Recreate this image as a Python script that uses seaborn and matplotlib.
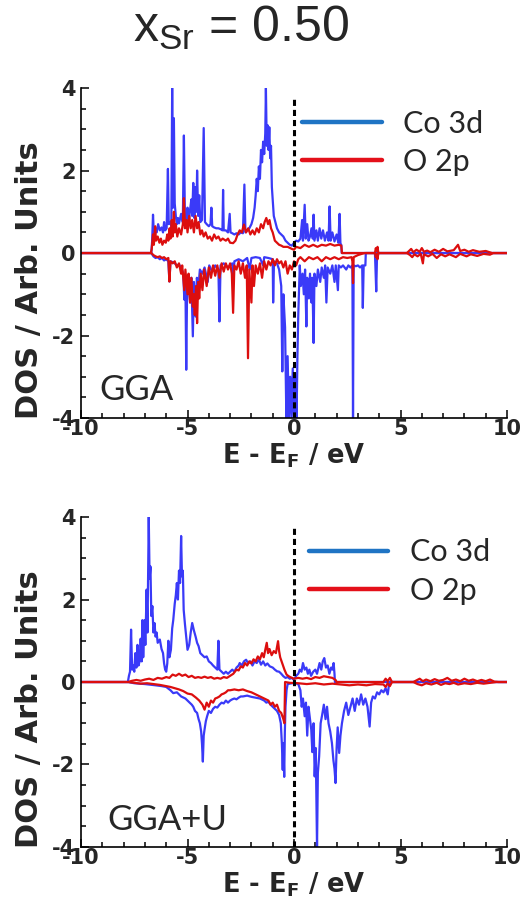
import numpy as np
import pandas as pd
import matplotlib
matplotlib.use("Agg")
import matplotlib.pyplot as plt
from matplotlib.lines import Line2D
from matplotlib.ticker import MultipleLocator
import seaborn as sns

# ---------------- data (E - E_F in eV, DOS in arb. units) ----------------
title_text = r"$\mathrm{x_{Sr}}$ = 0.50"
panel_labels = ["GGA", "GGA+U"]
series_names = ["Co 3d", "O 2p"]
x_ticks = [-10, -5, 0, 5, 10]
y_ticks = [-4, -2, 0, 2, 4]

gga_co_up = [(-10, 0), (-6.7, 0), (-6.66, 0.3), (-6.62, 0.93), (-6.58, 0.45), (-6.5, 0.6), (-6.45, 0.5), (-6.38, 0.7),
             (-6.3, 0.55), (-6.22, 0.62), (-6.15, 0.5), (-6.1, 0.75), (-6.05, 0.55), (-5.98, 0.6), (-5.92, 2.04),
             (-5.88, 0.7), (-5.8, 0.75), (-5.76, 0.65), (-5.72, 4.0), (-5.68, 1.1), (-5.64, 3.27), (-5.6, 1.2),
             (-5.55, 0.9), (-5.5, 0.7), (-5.45, 0.85), (-5.4, 0.72), (-5.3, 0.95), (-5.22, 0.75), (-5.17, 2.85),
             (-5.12, 0.8), (-5.05, 0.7), (-5.0, 1.1), (-4.95, 0.72), (-4.88, 1.05), (-4.82, 1.3), (-4.78, 0.9),
             (-4.73, 1.7), (-4.68, 0.85), (-4.62, 1.6), (-4.58, 1.0), (-4.55, 2.0), (-4.5, 0.9), (-4.45, 1.4),
             (-4.4, 0.75), (-4.32, 0.8), (-4.24, 3.03), (-4.18, 0.75), (-4.1, 0.7), (-4.0, 0.65), (-3.92, 0.7),
             (-3.88, 1.1), (-3.84, 0.65), (-3.75, 0.62), (-3.65, 0.6), (-3.55, 0.6), (-3.45, 0.58), (-3.36, 0.55),
             (-3.33, 1.53), (-3.3, 0.55), (-3.2, 0.55), (-3.1, 0.5), (-3.02, 0.95), (-2.98, 0.5), (-2.9, 0.48),
             (-2.8, 0.45), (-2.7, 0.48), (-2.6, 0.45), (-2.5, 0.5), (-2.4, 0.48), (-2.33, 1.66), (-2.28, 0.5),
             (-2.2, 0.55), (-2.1, 0.6), (-2.0, 0.7), (-1.92, 0.85), (-1.85, 1.1), (-1.8, 1.4), (-1.75, 1.8),
             (-1.7, 1.5), (-1.65, 2.1), (-1.6, 1.8), (-1.55, 2.5), (-1.5, 2.2), (-1.45, 2.7), (-1.4, 2.4),
             (-1.35, 2.9), (-1.32, 4.0), (-1.28, 2.6), (-1.24, 3.1), (-1.2, 2.5), (-1.16, 3.05), (-1.12, 2.3),
             (-1.08, 2.6), (-1.04, 1.6), (-1.0, 1.3), (-0.95, 0.9), (-0.9, 0.8), (-0.8, 0.6), (-0.7, 0.5),
             (-0.6, 0.45), (-0.5, 0.4), (-0.4, 0.3), (-0.3, 0.25), (-0.2, 0.2), (-0.1, 0.18), (0.0, 0.25),
             (0.1, 0.3), (0.2, 0.28), (0.3, 0.35), (0.38, 0.8), (0.42, 0.3), (0.5, 1.17), (0.55, 0.35), (0.62, 0.7),
             (0.68, 0.3), (0.75, 0.4), (0.82, 0.6), (0.88, 0.35), (0.92, 0.93), (0.96, 0.3), (1.05, 0.55),
             (1.12, 0.3), (1.2, 0.6), (1.28, 0.35), (1.36, 0.55), (1.45, 0.3), (1.55, 0.5), (1.62, 0.3),
             (1.67, 1.13), (1.72, 0.3), (1.8, 0.5), (1.9, 0.28), (2.0, 0.45), (2.08, 0.25), (2.14, 0.95),
             (2.18, 0.22), (2.22, 0.2), (2.24, 0), (10, 0)]

gga_co_dn = [(-10, 0), (-6.7, 0), (-6.6, -0.08), (-6.5, -0.12), (-6.4, -0.1), (-6.3, -0.15), (-6.2, -0.12),
             (-6.1, -0.18), (-6.0, -0.15), (-5.9, -0.2), (-5.85, -0.69), (-5.8, -0.2), (-5.7, -0.22), (-5.6, -0.25),
             (-5.5, -0.3), (-5.4, -0.28), (-5.3, -0.35), (-5.2, -0.5), (-5.15, -1.13), (-5.1, -0.6), (-5.06, -2.83),
             (-5.02, -0.9), (-4.95, -0.7), (-4.88, -1.2), (-4.82, -0.6), (-4.75, -2.02), (-4.7, -0.7),
             (-4.62, -1.54), (-4.56, -0.6), (-4.5, -0.9), (-4.42, -0.4), (-4.3, -0.5), (-4.2, -0.35), (-4.05, -0.7),
             (-3.98, -0.3), (-3.85, -0.45), (-3.7, -0.3), (-3.55, -0.4), (-3.5, -1.66), (-3.45, -0.3), (-3.3, -0.25),
             (-3.1, -0.35), (-2.9, -0.25), (-2.85, -0.6), (-2.8, -0.2), (-2.6, -0.15), (-2.4, -0.2), (-2.2, -0.12),
             (-2.08, -0.4), (-2.0, -0.12), (-1.8, -0.1), (-1.6, -0.12), (-1.45, -0.3), (-1.4, -0.1), (-1.2, -0.12),
             (-1.0, -0.15), (-0.98, -1.2), (-0.94, -0.2), (-0.8, -0.25), (-0.7, -0.4), (-0.6, -0.8), (-0.55, -2.87),
             (-0.5, -1.0), (-0.42, -1.8), (-0.36, -4.0), (-0.3, -2.5), (-0.24, -4.0), (-0.18, -3.0), (-0.12, -4.0),
             (-0.06, -2.8), (0.0, -4.0), (0.06, -3.0), (0.12, -4.0), (0.16, -2.5), (0.2, -1.5), (0.27, -0.3),
             (0.32, -0.8), (0.4, -0.5), (0.46, -1.0), (0.52, -0.4), (0.58, -1.78), (0.62, -0.6), (0.7, -1.1),
             (0.75, -0.5), (0.82, -1.2), (0.86, -0.6), (0.92, -2.18), (0.96, -0.5), (1.05, -0.8), (1.12, -0.4),
             (1.23, -0.7), (1.3, -0.35), (1.4, -0.6), (1.46, -0.3), (1.52, -1.2), (1.58, -0.35), (1.7, -0.5),
             (1.8, -0.3), (1.9, -0.7), (1.96, -0.3), (2.06, -0.9), (2.1, -0.3), (2.2, -0.35), (2.3, -0.3),
             (2.45, -0.4), (2.55, -0.3), (2.65, -0.35), (2.74, -0.3), (2.77, -4.0), (2.8, -0.3), (2.9, -0.32),
             (3.0, -0.3), (3.1, -0.35), (3.2, -0.3), (3.23, -1.33), (3.27, -0.3), (3.35, -0.3), (3.37, 0),
             (3.8, 0), (3.86, -0.93), (3.9, 0), (10, 0)]

gga_o_up = [(-10, 0), (-6.72, 0), (-6.68, 0.1), (-6.62, 0.45), (-6.58, 0.2), (-6.52, 0.65), (-6.48, 0.3), (-6.4, 0.4),
            (-6.32, 0.25), (-6.25, 0.35), (-6.18, 0.2), (-6.1, 0.3), (-6.02, 0.25), (-5.95, 0.45), (-5.9, 0.3),
            (-5.84, 0.6), (-5.8, 0.35), (-5.74, 0.8), (-5.7, 0.4), (-5.64, 1.0), (-5.6, 0.5), (-5.55, 0.7),
            (-5.48, 0.4), (-5.4, 0.6), (-5.3, 0.45), (-5.22, 0.7), (-5.17, 1.33), (-5.12, 0.6), (-5.05, 0.8),
            (-5.0, 0.5), (-4.92, 0.9), (-4.85, 0.6), (-4.78, 0.8), (-4.7, 0.5), (-4.62, 0.9), (-4.55, 0.6),
            (-4.48, 0.75), (-4.4, 0.45), (-4.32, 0.55), (-4.24, 0.4), (-4.15, 0.5), (-4.05, 0.35), (-3.95, 0.4),
            (-3.85, 0.3), (-3.75, 0.45), (-3.65, 0.35), (-3.55, 0.4), (-3.45, 0.3), (-3.35, 0.35), (-3.2, 0.3),
            (-3.1, 0.35), (-3.0, 0.25), (-2.86, 0.24), (-2.75, 0.3), (-2.65, 0.45), (-2.55, 0.55), (-2.45, 0.5),
            (-2.35, 0.69), (-2.25, 0.5), (-2.15, 0.6), (-2.05, 0.45), (-1.95, 0.55), (-1.85, 0.45), (-1.75, 0.6),
            (-1.65, 0.5), (-1.55, 0.7), (-1.45, 0.6), (-1.38, 0.75), (-1.3, 0.85), (-1.22, 0.7), (-1.15, 0.8),
            (-1.08, 0.6), (-1.0, 0.5), (-0.9, 0.3), (-0.8, 0.25), (-0.7, 0.2), (-0.6, 0.18), (-0.5, 0.15),
            (-0.3, 0.15), (-0.1, 0.1), (0.0, 0.08), (0.1, 0.15), (0.3, 0.12), (0.5, 0.2), (0.7, 0.15), (0.9, 0.2),
            (1.1, 0.15), (1.3, 0.2), (1.5, 0.18), (1.7, 0.22), (1.9, 0.18), (2.1, 0.2), (2.22, 0.18), (2.25, 0),
            (3.8, 0), (3.84, 0.12), (3.88, 0.05), (3.92, 0.15), (3.96, 0), (5.3, 0), (5.4, 0.05), (5.5, 0.1),
            (5.6, 0.02), (5.75, 0.08), (5.9, 0.03), (6.0, 0.12), (6.1, 0.03), (6.25, 0.06), (6.4, 0.02), (6.6, 0.08),
            (6.8, 0.03), (7.0, 0.1), (7.2, 0.04), (7.5, 0.07), (7.7, 0.2), (7.8, 0.05), (8.0, 0.08), (8.2, 0.03),
            (8.4, 0.07), (8.7, 0.03), (9.0, 0.05), (9.3, 0), (10, 0)]

gga_o_dn = [(-10, 0), (-6.7, 0), (-6.6, -0.05), (-6.5, -0.08), (-6.4, -0.1), (-6.3, -0.08), (-6.2, -0.12), (-6.1, -0.1),
            (-6.0, -0.15), (-5.9, -0.12), (-5.85, -0.69), (-5.8, -0.2), (-5.7, -0.25), (-5.6, -0.2), (-5.5, -0.35),
            (-5.4, -0.25), (-5.3, -0.5), (-5.25, -0.3), (-5.15, -0.9), (-5.1, -0.4), (-5.0, -1.0), (-4.95, -0.5),
            (-4.88, -1.2), (-4.82, -0.6), (-4.75, -1.3), (-4.7, -1.0), (-4.66, -1.5), (-4.6, -0.8), (-4.55, -1.7),
            (-4.5, -0.7), (-4.45, -1.1), (-4.38, -0.5), (-4.3, -0.9), (-4.22, -0.4), (-4.1, -0.8), (-4.0, -0.35),
            (-3.9, -0.6), (-3.8, -0.3), (-3.7, -0.55), (-3.6, -0.3), (-3.5, -0.6), (-3.4, -0.25), (-3.3, -0.45),
            (-3.2, -0.25), (-3.1, -0.4), (-3.0, -0.25), (-2.92, -0.5), (-2.86, -1.45), (-2.8, -0.3), (-2.7, -0.4),
            (-2.6, -0.2), (-2.5, -0.5), (-2.4, -0.25), (-2.3, -0.6), (-2.22, -0.3), (-2.16, -2.55), (-2.1, -0.4),
            (-2.0, -1.2), (-1.95, -0.3), (-1.88, -0.8), (-1.8, -0.3), (-1.7, -0.5), (-1.6, -0.25), (-1.5, -0.6),
            (-1.4, -0.2), (-1.3, -0.4), (-1.2, -0.2), (-1.1, -0.3), (-1.0, -0.15), (-0.9, -0.3), (-0.8, -0.15),
            (-0.7, -0.25), (-0.6, -0.2), (-0.5, -0.35), (-0.4, -0.2), (-0.3, -0.5), (-0.2, -0.3), (-0.1, -0.4),
            (0.0, -0.2), (0.1, -0.3), (0.2, -0.15), (0.3, -0.1), (0.5, -0.2), (0.7, -0.1), (0.9, -0.15), (1.1, -0.1),
            (1.3, -0.2), (1.5, -0.1), (1.7, -0.15), (1.9, -0.1), (2.1, -0.15), (2.3, -0.1), (2.5, -0.12),
            (2.7, -0.1), (2.74, -0.2), (2.77, -0.73), (2.8, -0.1), (3.0, -0.05), (3.3, 0), (3.8, 0), (3.84, -0.1),
            (3.88, -0.03), (3.92, -0.15), (3.96, 0), (5.3, 0), (5.45, -0.05), (5.55, -0.1), (5.65, -0.03),
            (5.8, -0.08), (5.95, -0.02), (6.05, -0.25), (6.1, -0.03), (6.3, -0.08), (6.5, -0.02), (6.7, -0.12),
            (6.9, -0.03), (7.1, -0.08), (7.3, -0.03), (7.6, -0.1), (7.8, -0.02), (8.1, -0.08), (8.3, -0.03),
            (8.6, -0.07), (8.9, -0.02), (9.2, -0.04), (9.35, 0), (10, 0)]

ggau_co_up = [(-10, 0), (-7.8, 0), (-7.75, 0.15), (-7.7, 0.25), (-7.65, 1.27), (-7.6, 0.3), (-7.55, 0.4), (-7.5, 0.25),
              (-7.45, 0.7), (-7.4, 0.35), (-7.35, 0.9), (-7.3, 0.4), (-7.25, 0.5), (-7.2, 1.05), (-7.15, 0.5),
              (-7.12, 1.5), (-7.08, 0.6), (-7.02, 1.5), (-6.98, 0.9), (-6.92, 2.24), (-6.88, 1.2), (-6.82, 4.0),
              (-6.78, 2.5), (-6.74, 2.8), (-6.7, 1.6), (-6.65, 1.84), (-6.6, 1.2), (-6.55, 1.43), (-6.5, 1.1),
              (-6.45, 1.2), (-6.4, 0.95), (-6.3, 1.03), (-6.22, 0.8), (-6.15, 0.7), (-6.1, 0.45), (-6.05, 0.3),
              (-6.0, 0.25), (-5.95, 0.45), (-5.9, 1.0), (-5.85, 0.6), (-5.78, 0.78), (-5.72, 1.3), (-5.67, 1.5),
              (-5.6, 1.9), (-5.55, 2.1), (-5.5, 2.4), (-5.45, 2.0), (-5.4, 2.7), (-5.35, 2.4), (-5.3, 3.54),
              (-5.26, 2.56), (-5.22, 2.7), (-5.18, 1.75), (-5.12, 1.4), (-5.06, 1.1), (-5.0, 0.78), (-4.92, 0.9),
              (-4.85, 1.2), (-4.78, 1.43), (-4.7, 1.25), (-4.62, 1.1), (-4.55, 0.95), (-4.48, 0.87), (-4.4, 0.7),
              (-4.3, 0.65), (-4.2, 0.6), (-4.1, 0.62), (-4.0, 0.5), (-3.9, 0.46), (-3.8, 0.4), (-3.7, 0.35),
              (-3.6, 0.3), (-3.55, 1.0), (-3.5, 0.3), (-3.4, 0.25), (-3.3, 0.2), (-3.2, 0.25), (-3.1, 0.2),
              (-3.0, 0.25), (-2.9, 0.3), (-2.8, 0.25), (-2.7, 0.35), (-2.6, 0.4), (-2.55, 0.46), (-2.45, 0.4),
              (-2.35, 0.5), (-2.25, 0.54), (-2.15, 0.45), (-2.05, 0.5), (-1.95, 0.4), (-1.85, 0.5), (-1.75, 0.46),
              (-1.65, 0.55), (-1.55, 0.42), (-1.45, 0.5), (-1.35, 0.4), (-1.25, 0.45), (-1.14, 0.38), (-1.0, 0.35),
              (-0.9, 0.3), (-0.8, 0.26), (-0.7, 0.25), (-0.6, 0.2), (-0.5, 0.14), (-0.4, 0.1), (-0.3, 0.12),
              (-0.2, 0.08), (-0.1, 0.1), (0.0, 0.05), (0.1, 0.15), (0.2, 0.2), (0.27, 0.3), (0.35, 0.25),
              (0.42, 0.46), (0.5, 0.3), (0.58, 0.35), (0.65, 0.2), (0.72, 0.3), (0.8, 0.15), (0.9, 0.25), (1.0, 0.3),
              (1.08, 0.2), (1.15, 0.35), (1.2, 0.46), (1.28, 0.3), (1.35, 0.5), (1.42, 0.58), (1.5, 0.35),
              (1.58, 0.4), (1.66, 0.2), (1.74, 0.35), (1.8, 0.3), (1.86, 0.46), (1.9, 0.2), (1.92, 0), (10, 0)]

ggau_co_dn = [(-10, 0), (-7.8, 0), (-7.5, -0.03), (-7.0, -0.05), (-6.5, -0.08), (-6.2, -0.1), (-6.0, -0.12),
              (-5.8, -0.2), (-5.67, -0.27), (-5.5, -0.25), (-5.3, -0.35), (-5.1, -0.4), (-5.0, -0.45), (-4.9, -0.5),
              (-4.8, -0.55), (-4.73, -0.6), (-4.65, -0.7), (-4.55, -0.75), (-4.48, -0.9), (-4.42, -1.0),
              (-4.36, -1.2), (-4.32, -1.5), (-4.28, -1.93), (-4.24, -1.3), (-4.2, -1.15), (-4.14, -0.95),
              (-4.08, -0.83), (-4.0, -0.7), (-3.9, -0.75), (-3.8, -0.65), (-3.7, -0.6), (-3.6, -0.62), (-3.5, -0.55),
              (-3.4, -0.5), (-3.3, -0.52), (-3.2, -0.45), (-3.1, -0.5), (-3.0, -0.45), (-2.9, -0.42), (-2.8, -0.4),
              (-2.7, -0.42), (-2.6, -0.38), (-2.5, -0.35), (-2.4, -0.35), (-2.2, -0.33), (-2.0, -0.36),
              (-1.8, -0.38), (-1.6, -0.4), (-1.4, -0.45), (-1.3, -0.5), (-1.2, -0.48), (-1.1, -0.55), (-1.0, -0.6),
              (-0.9, -0.65), (-0.8, -0.7), (-0.7, -0.8), (-0.62, -1.0), (-0.57, -1.5), (-0.53, -2.13), (-0.5, -1.48),
              (-0.46, -2.3), (-0.43, -1.2), (-0.4, -0.6), (-0.35, -0.2), (-0.3, -0.05), (0.0, -0.02), (0.2, -0.05),
              (0.3, -0.2), (0.36, -0.6), (0.42, -0.4), (0.5, -0.83), (0.56, -0.5), (0.62, -1.3), (0.68, -0.6),
              (0.75, -0.9), (0.81, -1.16), (0.86, -1.7), (0.92, -1.0), (0.97, -2.29), (1.02, -1.6), (1.08, -4.0),
              (1.12, -2.2), (1.18, -1.8), (1.25, -1.0), (1.32, -0.8), (1.4, -0.55), (1.48, -0.9), (1.55, -0.6),
              (1.62, -1.0), (1.7, -1.2), (1.78, -1.48), (1.85, -1.9), (1.9, -2.1), (1.95, -2.45), (2.0, -1.6),
              (2.05, -1.1), (2.12, -1.72), (2.18, -1.3), (2.25, -1.0), (2.35, -0.7), (2.45, -0.5), (2.55, -0.8),
              (2.65, -0.6), (2.75, -0.4), (2.85, -0.7), (2.95, -0.4), (3.05, -0.55), (3.15, -0.3), (3.25, -0.55),
              (3.35, -0.4), (3.45, -0.6), (3.55, -1.08), (3.62, -0.5), (3.7, -0.35), (3.8, -0.4), (3.9, -0.25),
              (4.0, -0.3), (4.1, -0.2), (4.2, -0.25), (4.3, -0.15), (4.4, -0.3), (4.45, -0.1), (4.5, 0), (10, 0)]

ggau_o_up = [(-10, 0), (-7.8, 0), (-7.6, 0.03), (-7.4, 0.05), (-7.2, 0.03), (-7.0, 0.06), (-6.8, 0.08), (-6.6, 0.05),
             (-6.4, 0.1), (-6.2, 0.08), (-6.0, 0.12), (-5.85, 0.1), (-5.7, 0.18), (-5.55, 0.15), (-5.4, 0.2),
             (-5.25, 0.15), (-5.1, 0.18), (-4.95, 0.12), (-4.8, 0.15), (-4.65, 0.1), (-4.5, 0.12), (-4.35, 0.1),
             (-4.2, 0.13), (-4.05, 0.1), (-3.9, 0.12), (-3.75, 0.08), (-3.6, 0.1), (-3.45, 0.08), (-3.3, 0.12),
             (-3.15, 0.1), (-3.0, 0.15), (-2.85, 0.2), (-2.7, 0.3), (-2.6, 0.28), (-2.5, 0.38), (-2.4, 0.35),
             (-2.3, 0.46), (-2.2, 0.4), (-2.1, 0.5), (-2.0, 0.45), (-1.9, 0.55), (-1.8, 0.5), (-1.7, 0.62),
             (-1.6, 0.55), (-1.5, 0.7), (-1.42, 0.6), (-1.35, 0.78), (-1.28, 0.95), (-1.22, 0.7), (-1.15, 0.8),
             (-1.05, 0.65), (-0.95, 0.75), (-0.85, 0.7), (-0.75, 0.99), (-0.7, 0.75), (-0.65, 0.6), (-0.55, 0.45),
             (-0.45, 0.3), (-0.35, 0.18), (-0.25, 0.14), (-0.1, 0.1), (0.0, 0.08), (0.2, 0.1), (0.4, 0.08),
             (0.6, 0.1), (0.8, 0.07), (1.0, 0.12), (1.2, 0.1), (1.4, 0.14), (1.6, 0.12), (1.8, 0.1), (1.95, 0.05),
             (2.0, 0), (4.2, 0), (4.3, 0.08), (4.4, 0.02), (4.5, 0.1), (4.6, 0), (5.6, 0), (5.75, 0.04), (5.9, 0.08),
             (6.05, 0.02), (6.2, 0.06), (6.4, 0.02), (6.6, 0.07), (6.8, 0.03), (7.0, 0.05), (7.2, 0.1), (7.4, 0.03),
             (7.6, 0.06), (7.8, 0.02), (8.0, 0.08), (8.2, 0.03), (8.4, 0.06), (8.6, 0.02), (8.8, 0.05), (9.0, 0.02),
             (9.2, 0.06), (9.4, 0.01), (9.6, 0), (10, 0)]

ggau_o_dn = [(-10, 0), (-7.8, 0), (-7.5, -0.02), (-7.2, -0.04), (-6.9, -0.03), (-6.6, -0.05), (-6.3, -0.07),
             (-6.0, -0.1), (-5.8, -0.12), (-5.6, -0.15), (-5.4, -0.18), (-5.2, -0.22), (-5.0, -0.28), (-4.8, -0.3),
             (-4.6, -0.38), (-4.45, -0.45), (-4.3, -0.55), (-4.2, -0.67), (-4.1, -0.5), (-4.0, -0.6), (-3.9, -0.45),
             (-3.8, -0.5), (-3.7, -0.4), (-3.6, -0.38), (-3.5, -0.35), (-3.4, -0.3), (-3.3, -0.28), (-3.2, -0.25),
             (-3.1, -0.2), (-3.0, -0.2), (-2.8, -0.18), (-2.6, -0.2), (-2.4, -0.18), (-2.2, -0.22), (-2.0, -0.25),
             (-1.8, -0.3), (-1.6, -0.35), (-1.4, -0.4), (-1.2, -0.45), (-1.1, -0.55), (-1.0, -0.5), (-0.9, -0.6),
             (-0.8, -0.55), (-0.7, -0.7), (-0.6, -0.75), (-0.5, -0.9), (-0.45, -1.0), (-0.42, 0), (-0.2, -0.02),
             (0.2, -0.03), (0.6, -0.05), (1.0, -0.03), (1.4, -0.06), (1.8, -0.04), (2.2, -0.06), (2.6, -0.08),
             (3.0, -0.06), (3.4, -0.08), (3.8, -0.05), (4.2, -0.06), (4.3, -0.12), (4.4, -0.03), (4.5, -0.1),
             (4.6, 0), (5.6, 0), (5.8, -0.05), (6.0, -0.08), (6.2, -0.03), (6.45, -0.06), (6.7, -0.02),
             (6.9, -0.07), (7.1, -0.03), (7.3, -0.05), (7.5, -0.02), (7.7, -0.06), (8.0, -0.03), (8.3, -0.05),
             (8.6, -0.02), (8.9, -0.04), (9.2, -0.02), (9.5, 0), (10, 0)]

# ---------------- style ----------------
sns.set_style("ticks")
plt.rcParams['font.family'] = ['DejaVu Sans']
plt.rcParams['mathtext.fontset'] = 'custom'
plt.rcParams['mathtext.rm'] = 'Liberation Sans'
plt.rcParams['mathtext.it'] = 'Liberation Sans:italic'
plt.rcParams['mathtext.bf'] = 'DejaVu Sans:bold'

CO_COLOR = "#3a3af8"
O_COLOR = "#dc0e0e"
CO_LEG = "#1f74c4"
O_LEG = "#e4101a"

fig = plt.figure(figsize=(5.22, 9.05), dpi=100)
ax_top = fig.add_axes([0.1552, 0.5381, 0.8161, 0.3646])
ax_bot = fig.add_axes([0.1552, 0.0641, 0.8161, 0.3646])

panels = [
    (ax_top, [gga_co_up, gga_co_dn], [gga_o_up, gga_o_dn], panel_labels[0], (0.042, 0.055), (0.519, 0.935), -0.073),
    (ax_bot, [ggau_co_up, ggau_co_dn], [ggau_o_up, ggau_o_dn], panel_labels[1], (0.061, 0.052), (0.535, 0.935), -0.071),
]

for ax, co_sets, o_sets, plabel, pl_xy, leg_xy, xl_y in panels:
    for pts in co_sets:
        df = pd.DataFrame(pts, columns=["E", "DOS"])
        sns.lineplot(data=df, x="E", y="DOS", ax=ax, color=CO_COLOR, lw=1.6, sort=False,
                     estimator=None, legend=False)
    for pts in o_sets:
        df = pd.DataFrame(pts, columns=["E", "DOS"])
        sns.lineplot(data=df, x="E", y="DOS", ax=ax, color=O_COLOR, lw=1.6, sort=False,
                     estimator=None, legend=False)
    ax.axvline(0, ymin=0, ymax=0.97, color="black", lw=2.2, ls=(0, (2.0, 1.3)), zorder=5)

    ax.set_xlim(-10, 10)
    ax.set_ylim(-4, 4)
    ax.set_xticks(x_ticks)
    ax.set_yticks(y_ticks)
    ax.set_xticklabels([str(t) for t in x_ticks])
    ax.set_yticklabels([str(t) for t in y_ticks])
    ax.xaxis.set_minor_locator(MultipleLocator(1))
    ax.yaxis.set_minor_locator(MultipleLocator(0.5))
    ax.tick_params(which="both", direction="in", top=False, right=False, width=1.1, color="black")
    ax.tick_params(which="major", length=6)
    ax.tick_params(which="minor", length=3.5)
    ax.tick_params(axis="x", which="major", pad=1, labelsize=15)
    ax.tick_params(axis="y", which="major", pad=4, labelsize=15)
    for lbl in ax.get_xticklabels() + ax.get_yticklabels():
        lbl.set_fontweight("bold")
    for s in ["top", "right"]:
        ax.spines[s].set_visible(False)
    for s in ["left", "bottom"]:
        ax.spines[s].set_linewidth(1.2)
        ax.spines[s].set_color("black")

    ax.set_xlabel(r"E - E$_\mathbf{F}$ / eV", fontsize=18.5, fontweight="bold")
    ax.set_ylabel("DOS / Arb. Units", fontsize=22, fontweight="bold")
    ax.xaxis.set_label_coords(0.5, xl_y)
    ax.yaxis.set_label_coords(-0.087, 0.418)

    ax.text(pl_xy[0], pl_xy[1], plabel, transform=ax.transAxes, fontsize=25,
            family="Lato", va="baseline", ha="left")

    handles = [Line2D([], [], color=CO_LEG, lw=3.2), Line2D([], [], color=O_LEG, lw=3.2)]
    ax.legend(handles, series_names, loc="upper left", bbox_to_anchor=leg_xy, frameon=False,
              prop={"family": "Lato", "size": 22}, handlelength=2.6, handletextpad=0.7,
              labelspacing=0.33, borderpad=0, borderaxespad=0)

fig.text(0.4627, 1 - 28 / 905, title_text, fontsize=36, family="Liberation Sans",
         ha="center", va="center")

fig.savefig("out.png", dpi=100)
